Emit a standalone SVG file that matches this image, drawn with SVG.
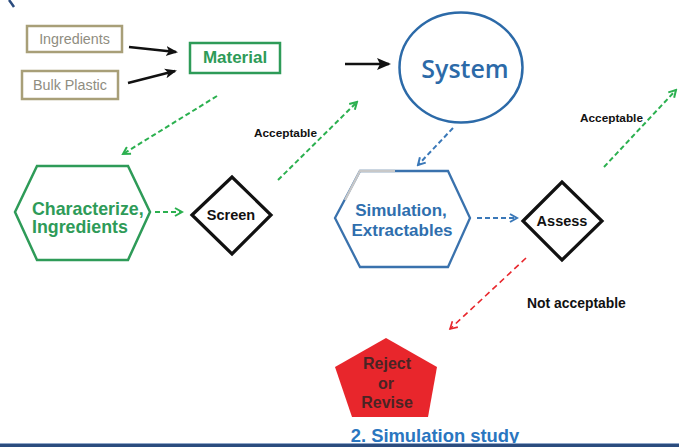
<svg xmlns="http://www.w3.org/2000/svg" width="679" height="447" viewBox="0 0 679 447">
<defs>
<style>
.t{font-family:"Liberation Sans",Arial,sans-serif;font-weight:bold}
.box{fill:#fff;stroke:#a89f78;stroke-width:2.5}
.boxt{font-family:"Liberation Sans",Arial,sans-serif;font-size:14.3px;fill:#8f8d7f}
.green{fill:#2e9b58}
.blue{fill:#2f6fae}
.dia{fill:#fff;stroke:#111;stroke-width:3.2;stroke-linejoin:miter}
.gd{fill:none;stroke:#2bb04f;stroke-width:2;stroke-dasharray:5 3}
.bd{fill:none;stroke:#3a78b8;stroke-width:2;stroke-dasharray:5 3}
.rd{fill:none;stroke:#e8262c;stroke-width:1.6;stroke-dasharray:6 4}
.blk{fill:none;stroke:#111;stroke-width:2.4}
</style>
<marker id="ah" viewBox="0 0 12 12" refX="10" refY="6" markerWidth="12" markerHeight="12" orient="auto" markerUnits="userSpaceOnUse">
<path d="M0,1 L12,6 L0,11 L3,6 Z" fill="#111"/>
</marker>
<marker id="ah2" viewBox="0 0 14 14" refX="12" refY="7" markerWidth="14" markerHeight="14" orient="auto" markerUnits="userSpaceOnUse">
<path d="M0,1 L14,7 L0,13 L3,7 Z" fill="#111"/>
</marker>
<marker id="ag" viewBox="0 0 10 10" refX="8" refY="5" markerWidth="10" markerHeight="10" orient="auto" markerUnits="userSpaceOnUse">
<path d="M1,1 L8,5 L1,9" fill="none" stroke="#2bb04f" stroke-width="2"/>
</marker>
<marker id="ab" viewBox="0 0 10 10" refX="8" refY="5" markerWidth="10" markerHeight="10" orient="auto" markerUnits="userSpaceOnUse">
<path d="M1,1 L8,5 L1,9" fill="none" stroke="#3a78b8" stroke-width="2"/>
</marker>
<marker id="ar" viewBox="0 0 10 10" refX="8" refY="5" markerWidth="10" markerHeight="10" orient="auto" markerUnits="userSpaceOnUse">
<path d="M1,1 L8,5 L1,9" fill="none" stroke="#e8262c" stroke-width="1.6"/>
</marker>
</defs>
<rect width="679" height="447" fill="#fff"/>
<path d="M9,0 Q12,4 14,7" fill="none" stroke="#2b4c7e" stroke-width="2.5"/>

<g id="ingredients">
<rect class="box" x="27" y="26" width="95" height="26"/>
<text class="boxt" x="74.5" y="44" text-anchor="middle">Ingredients</text>
</g>
<g id="bulk-plastic">
<rect class="box" x="22" y="71" width="96" height="28"/>
<text class="boxt" x="70" y="90" text-anchor="middle" font-size="14.6">Bulk Plastic</text>
</g>
<g id="material">
<rect x="190" y="43" width="90" height="30" fill="#fff" stroke="#2e9b58" stroke-width="2.5"/>
<text class="t green" x="235" y="63" text-anchor="middle" font-size="17">Material</text>
</g>
<g id="system">
<ellipse cx="461" cy="67.5" rx="61.5" ry="55" fill="#fff" stroke="#2c6aa8" stroke-width="2.5"/>
<text x="465" y="78" text-anchor="middle" font-family="'Open Sans',sans-serif" font-weight="600" font-size="25" fill="#2c6aa8">System</text>
</g>
<g id="characterize">
<polygon points="15,212 37,166 128,166 150,212 128,260 37,260" fill="#fff" stroke="#2e9b58" stroke-width="2.5"/>
<text class="t green" x="32" y="215" font-size="17.8">Characterize,</text>
<text class="t green" x="32" y="233" font-size="17.8">Ingredients</text>
</g>
<g id="screen">
<polygon class="dia" points="192,215 232,177 271,215 232,254"/>
<text class="t" x="231" y="220" text-anchor="middle" font-size="14.5" fill="#111">Screen</text>
</g>
<g id="simulation">
<polygon points="335,218 360,171 448,171 470,218 448,267 360,267" fill="#fff" stroke="#3a72ad" stroke-width="2.3"/>
<path d="M345,200 L360,171 L395,171" fill="none" stroke="#c8c8c8" stroke-width="2.3"/>
<text class="t blue" x="401" y="216" text-anchor="middle" font-size="17">Simulation,</text>
<text class="t blue" x="402" y="236" text-anchor="middle" font-size="17">Extractables</text>
</g>
<g id="assess">
<polygon class="dia" points="523,221 562,182 602,221 562,260"/>
<text class="t" x="562" y="226" text-anchor="middle" font-size="14.5" fill="#111">Assess</text>
</g>
<g id="reject">
<polygon points="386,338 437,367 428,417 352,417 335,367" fill="#e8262c"/>
<text class="t" x="387" y="369" text-anchor="middle" font-size="16" fill="#4a2424">Reject</text>
<text class="t" x="386" y="389" text-anchor="middle" font-size="16" fill="#4a2424">or</text>
<text class="t" x="387" y="408" text-anchor="middle" font-size="16" fill="#4a2424">Revise</text>
</g>

<g id="connectors">
<line class="blk" x1="129" y1="47" x2="176" y2="52" marker-end="url(#ah)"/>
<line class="blk" x1="128" y1="83" x2="175" y2="71" marker-end="url(#ah)"/>
<line class="blk" x1="345" y1="64" x2="389" y2="64" stroke-width="3" marker-end="url(#ah2)"/>
<line class="gd" x1="217" y1="96" x2="123" y2="154" marker-end="url(#ag)"/>
<line class="gd" x1="155" y1="212" x2="182" y2="212" marker-end="url(#ag)"/>
<line class="gd" x1="278" y1="180" x2="357" y2="102" marker-end="url(#ag)"/>
<line class="gd" x1="604" y1="167" x2="676" y2="90" marker-end="url(#ag)"/>
<line class="bd" x1="453" y1="128" x2="418" y2="165" marker-end="url(#ab)"/>
<line class="bd" x1="477" y1="218" x2="517" y2="218" marker-end="url(#ab)"/>
<line class="rd" x1="526" y1="258" x2="450" y2="329" marker-end="url(#ar)"/>
</g>

<text class="t" x="254" y="137" font-size="11.8" fill="#111">Acceptable</text>
<text class="t" x="580" y="122" font-size="11.8" fill="#111">Acceptable</text>
<text class="t" x="527" y="308" font-size="13.9" fill="#111">Not acceptable</text>
<text class="t" x="435" y="442" text-anchor="middle" font-size="18.4" fill="#2a76c0">2. Simulation study</text>

<rect x="0" y="443" width="679" height="1" fill="#8fa6c8"/>
<rect x="0" y="444" width="679" height="3" fill="#2b4c7e"/>
</svg>
